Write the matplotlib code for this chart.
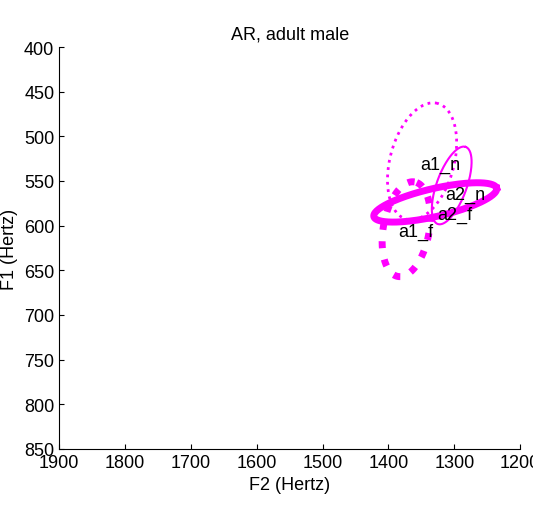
import numpy as np
import matplotlib
matplotlib.use("Agg")
import matplotlib.pyplot as plt
plt.rcParams['font.family'] = ['Liberation Sans', 'DejaVu Sans']

labels = ["a1_n", "a2_n", "a2_f", "a1_f"]
label_f2 = [1321, 1283, 1299, 1359]
label_f1 = [531, 565, 587, 607]
# ellipses: center F2, F1, semi-major (px), semi-minor (px), screen angle (deg)
ell_f2 = [1349, 1304, 1329, 1373]
ell_f1 = [528, 555, 574, 604]
ell_a = [60, 41, 63, 48]
ell_b = [32, 15, 14, 23]
ell_ang = [75, 70, 13, 80]
ell_style = [":", "-", "-", ":"]
ell_lw = [2, 1.5, 5, 5]

fig = plt.figure(figsize=(5.33, 5.06), dpi=100)
ax = fig.add_axes([0.111, 0.111, 0.865, 0.794])
ax.set_xlim(1900, 1200)
ax.set_ylim(850, 400)
fig.canvas.draw()
t = np.linspace(0, 2*np.pi, 200)
for i in range(4):
    cx, cy = ax.transData.transform((ell_f2[i], ell_f1[i]))
    th = np.deg2rad(ell_ang[i])
    dx = ell_a[i]*np.cos(t)*np.cos(th) - ell_b[i]*np.sin(t)*np.sin(th)
    dy = ell_a[i]*np.cos(t)*np.sin(th) + ell_b[i]*np.sin(t)*np.cos(th)
    pts = ax.transData.inverted().transform(np.c_[cx+dx, cy+dy])
    ax.plot(pts[:, 0], pts[:, 1], color="#ff00ff", ls=ell_style[i], lw=ell_lw[i])
for l, x, y in zip(labels, label_f2, label_f1):
    ax.text(x, y, l, fontsize=13, ha="center", va="center")
ax.set_xticks(np.arange(1900, 1199, -100))
ax.set_yticks(np.arange(400, 851, 50))
ax.tick_params(labelsize=13, direction="in")
for s in ["top", "right"]:
    ax.spines[s].set_visible(False)
ax.set_xlabel("F2 (Hertz)", fontsize=13)
ax.set_ylabel("F1 (Hertz)", fontsize=13)
ax.set_title("AR, adult male", fontsize=13)
fig.savefig("out.png")
